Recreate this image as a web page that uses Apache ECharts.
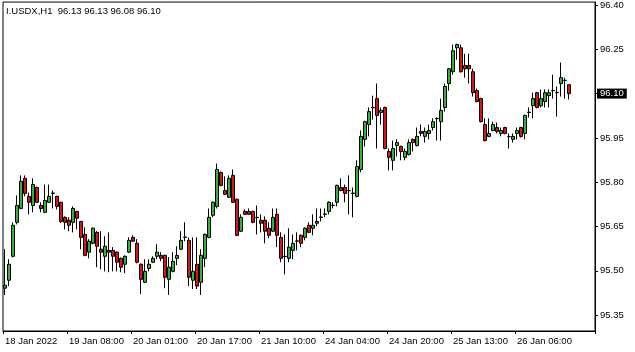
<!DOCTYPE html>
<html>
<head>
<meta charset="utf-8">
<title>I.USDX,H1</title>
<script src="https://cdn.jsdelivr.net/npm/echarts@6/dist/echarts.min.js"></script>
<style>
  html, body { margin: 0; padding: 0; background: #ffffff; }
  #chart { width: 635px; height: 352px; }
</style>
</head>
<body>
<div id="chart"></div>
<script>
// I.USDX H1 candles (oldest first)
var symbol = 'I.USDX,H1';
var opens = [95.441,95.468,95.549,95.664,95.711,95.813,95.752,95.721,95.782,95.721,
  95.698,95.732,95.762,95.752,95.732,95.681,95.671,95.664,95.701,95.667,
  95.623,95.563,95.593,95.630,95.573,95.549,95.569,95.569,95.563,95.542,
  95.522,95.563,95.613,95.593,95.522,95.461,95.508,95.529,95.549,95.552,
  95.552,95.471,95.498,95.542,95.573,95.613,95.603,95.468,95.522,95.461,
  95.542,95.613,95.688,95.718,95.833,95.772,95.749,95.823,95.742,95.634,
  95.701,95.701,95.701,95.681,95.671,95.671,95.644,95.634,95.691,95.613,
  95.549,95.542,95.569,95.600,95.620,95.613,95.654,95.644,95.661,95.681,
  95.691,95.701,95.721,95.732,95.782,95.782,95.772,95.762,95.752,95.843,
  95.945,95.995,96.053,96.083,96.036,96.053,95.904,95.874,95.924,95.921,
  95.884,95.894,95.945,95.924,95.972,95.955,95.965,95.985,96.016,96.005,
  96.053,96.134,96.174,96.255,96.255,96.195,96.195,96.174,96.110,96.083,
  95.995,95.955,95.975,95.985,95.965,95.985,95.955,95.945,95.965,95.985,
  95.965,96.036,96.059,96.103,96.059,96.073,96.093,96.110,96.103,96.134,
  96.144,96.13];
var closes = [95.451,95.522,95.654,95.721,95.803,95.762,95.732,95.792,95.732,95.711,
  95.738,95.752,95.763,95.718,95.667,95.664,95.654,95.711,95.678,95.613,
  95.552,95.600,95.644,95.583,95.563,95.583,95.563,95.549,95.529,95.512,
  95.549,95.603,95.600,95.529,95.471,95.498,95.522,95.542,95.563,95.542,
  95.478,95.512,95.532,95.552,95.603,95.614,95.478,95.498,95.448,95.552,
  95.623,95.681,95.732,95.843,95.789,95.759,95.813,95.732,95.620,95.681,
  95.691,95.691,95.664,95.680,95.661,95.634,95.620,95.681,95.620,95.542,
  95.548,95.580,95.593,95.601,95.593,95.644,95.630,95.654,95.667,95.682,
  95.692,95.732,95.722,95.789,95.772,95.762,95.771,95.763,95.853,95.955,
  96.005,96.039,96.052,96.026,96.043,95.914,95.884,95.914,95.934,95.904,
  95.904,95.934,95.934,95.955,95.965,95.972,95.975,96.005,96.015,96.043,
  96.124,96.184,96.245,96.266,96.174,96.184,96.184,96.103,96.073,96.005,
  95.941,95.965,95.995,95.972,95.975,95.965,95.954,95.955,95.975,95.955,
  96.026,96.037,96.083,96.053,96.083,96.103,96.103,96.111,96.104,96.154,
  96.145,96.10];
var lows = [95.418,95.448,95.545,95.657,95.708,95.752,95.691,95.698,95.730,95.698,
  95.695,95.730,95.711,95.708,95.662,95.640,95.634,95.630,95.640,95.573,
  95.549,95.542,95.590,95.512,95.505,95.498,95.495,95.498,95.498,95.495,
  95.492,95.560,95.598,95.525,95.421,95.458,95.498,95.526,95.539,95.532,
  95.441,95.418,95.495,95.519,95.570,95.600,95.448,95.438,95.438,95.418,
  95.512,95.610,95.681,95.711,95.786,95.756,95.746,95.729,95.617,95.631,
  95.689,95.689,95.661,95.623,95.630,95.593,95.610,95.631,95.580,95.529,
  95.488,95.529,95.539,95.569,95.580,95.603,95.627,95.620,95.651,95.667,
  95.681,95.691,95.711,95.718,95.769,95.732,95.691,95.681,95.749,95.833,
  95.921,95.955,96.012,95.914,95.995,95.911,95.840,95.840,95.887,95.874,
  95.874,95.890,95.904,95.921,95.955,95.934,95.945,95.975,95.941,95.941,
  96.039,96.110,96.164,96.215,96.171,96.154,96.134,96.090,96.070,96.002,
  95.938,95.952,95.972,95.965,95.955,95.962,95.914,95.934,95.945,95.951,
  95.945,96.019,96.016,96.050,96.053,96.053,96.053,96.083,96.022,96.090,
  96.083,96.08];
var highs = [95.573,95.539,95.664,95.755,95.823,95.823,95.765,95.813,95.785,95.732,
  95.792,95.792,95.772,95.754,95.734,95.684,95.681,95.718,95.703,95.669,
  95.647,95.607,95.647,95.634,95.634,95.617,95.630,95.580,95.566,95.545,
  95.552,95.613,95.620,95.607,95.525,95.539,95.539,95.549,95.590,95.563,
  95.555,95.546,95.563,95.583,95.634,95.664,95.613,95.613,95.613,95.573,
  95.626,95.711,95.735,95.863,95.836,95.820,95.823,95.843,95.745,95.691,
  95.708,95.711,95.704,95.721,95.691,95.684,95.664,95.711,95.711,95.630,
  95.623,95.644,95.623,95.630,95.623,95.647,95.664,95.691,95.711,95.711,
  95.711,95.735,95.732,95.792,95.813,95.792,95.823,95.782,95.874,95.975,
  96.008,96.053,96.093,96.134,96.053,96.056,95.914,95.941,95.945,95.924,
  95.914,95.945,95.948,95.985,95.995,95.985,95.995,96.016,96.019,96.083,
  96.134,96.187,96.266,96.269,96.266,96.235,96.235,96.184,96.117,96.086,
  96.016,96.016,96.005,96.002,95.985,95.988,95.965,95.965,95.985,95.988,
  96.029,96.053,96.103,96.106,96.114,96.114,96.114,96.164,96.124,96.205,
  96.154,96.13];

// time labels, one every 16 bars
var tickLabels = ['18 Jan 2022', '19 Jan 08:00', '20 Jan 01:00', '20 Jan 17:00', '21 Jan 10:00',
  '24 Jan 04:00', '24 Jan 20:00', '25 Jan 13:00', '26 Jan 06:00'];
var barsPerLabel = 16;
var slotCount = 148; // bars + empty shift on the right
var priceTicks = [95.35, 95.50, 95.65, 95.80, 95.95, 96.10, 96.25, 96.40];

var categories = [];
for (var i = 0; i < slotCount; i++) {
  var k = i / barsPerLabel;
  categories.push(i % barsPerLabel === 0 && k < tickLabels.length ? tickLabels[k] : '');
}
var candles = opens.map(function (o, i) {
  return [o, closes[i], lows[i], highs[i]];
});
var last = opens.length - 1;
var header = symbol + '  ' + [opens[last], highs[last], lows[last], closes[last]]
  .map(function (v) { return v.toFixed(2); }).join(' ');

var font = 'Liberation Sans';
var myChart = echarts.init(document.getElementById('chart'));
myChart.setOption({
  animation: false,
  backgroundColor: '#ffffff',
  title: {
    text: header,
    left: 6,
    top: 6,
    padding: 0,
    textStyle: { fontFamily: font, fontSize: 9.5, fontWeight: 'normal', color: '#000' }
  },
  grid: {
    left: 3,
    right: 40,
    top: 2,
    bottom: 21,
    show: true,
    borderColor: '#000',
    borderWidth: 1,
    backgroundColor: '#fff'
  },
  xAxis: {
    type: 'category',
    data: categories,
    boundaryGap: true,
    axisLine: { show: true, lineStyle: { color: '#000', width: 1 } },
    axisTick: {
      show: true,
      length: 3,
      interval: function (idx) { return categories[idx] !== ''; },
      lineStyle: { color: '#000' }
    },
    axisLabel: {
      interval: 0,
      align: 'left',
      margin: 5,
      color: '#000',
      fontFamily: font,
      fontSize: 9.5
    },
    splitLine: { show: false }
  },
  yAxis: {
    type: 'value',
    position: 'right',
    scale: true,
    min: 95.296,
    max: 96.410,
    axisLine: { show: true, lineStyle: { color: '#000', width: 1 } },
    axisTick: { show: true, length: 3, customValues: priceTicks, lineStyle: { color: '#000' } },
    axisLabel: {
      customValues: priceTicks,
      margin: 5,
      color: '#000',
      fontFamily: font,
      fontSize: 9.5,
      formatter: function (v) { return v.toFixed(2); }
    },
    splitLine: { show: false }
  },
  series: [{
    type: 'candlestick',
    data: candles,
    barWidth: 3,
    clip: false,
    itemStyle: {
      color: '#32b432',
      color0: '#dc1414',
      borderColor: '#000',
      borderColor0: '#000',
      borderWidth: 1
    },
    // current price box on the price scale
    markLine: {
      silent: true,
      symbol: ['none', 'none'],
      z: 10,
      lineStyle: { color: 'rgba(0,0,0,0)', type: 'solid', width: 1 },
      data: [{ yAxis: closes[last] }],
      label: {
        show: true,
        position: 'end',
        distance: 2,
        formatter: function () { return closes[last].toFixed(2); },
        backgroundColor: '#000',
        color: '#fff',
        fontFamily: font,
        fontSize: 9.5,
        lineHeight: 10,
        padding: [0, 3, 0, 3]
      }
    }
  }]
});
</script>
</body>
</html>
